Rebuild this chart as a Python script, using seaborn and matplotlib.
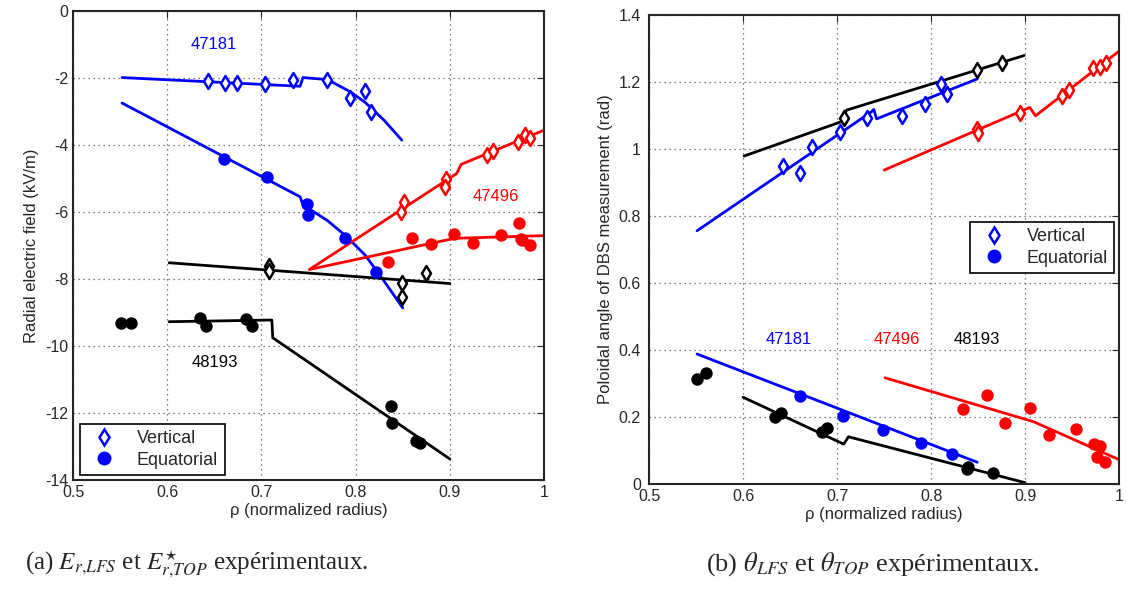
import seaborn as sns
import matplotlib.pyplot as plt
import pandas as pd
from matplotlib.lines import Line2D
from matplotlib.ticker import FormatStrFormatter, MultipleLocator

# ---- panel (a): radial electric field (kV/m) ----
er_47181_vert_rho = [0.643, 0.661, 0.674, 0.704, 0.733, 0.770, 0.794, 0.810, 0.816]
er_47181_vert_val = [-2.09, -2.14, -2.14, -2.18, -2.04, -2.04, -2.59, -2.39, -3.02]
er_47181_equa_rho = [0.660, 0.706, 0.748, 0.749, 0.789, 0.822]
er_47181_equa_val = [-4.40, -4.96, -5.76, -6.09, -6.76, -7.78]
er_47496_vert_rho = [0.851, 0.848, 0.896, 0.895, 0.939, 0.946, 0.972, 0.980, 0.985]
er_47496_vert_val = [-5.71, -6.00, -5.02, -5.24, -4.28, -4.17, -3.90, -3.70, -3.77]
er_47496_equa_rho = [0.834, 0.860, 0.880, 0.904, 0.924, 0.954, 0.973, 0.975, 0.977, 0.985]
er_47496_equa_val = [-7.48, -6.76, -6.94, -6.64, -6.92, -6.67, -6.32, -6.79, -6.82, -6.99]
er_48193_vert_rho = [0.708, 0.708, 0.849, 0.849, 0.875]
er_48193_vert_val = [-7.62, -7.75, -8.10, -8.53, -7.83]
er_48193_equa_rho = [0.551, 0.562, 0.635, 0.641, 0.684, 0.690, 0.838, 0.839, 0.864, 0.868]
er_48193_equa_val = [-9.30, -9.30, -9.15, -9.40, -9.20, -9.40, -11.78, -12.28, -12.84, -12.90]

# fitted profiles (a)
er_47181_vert_fit_rho = [0.552, 0.741, 0.744, 0.770, 0.794, 0.810, 0.830, 0.849]
er_47181_vert_fit_val = [-1.98, -2.24, -1.98, -2.04, -2.40, -2.72, -3.25, -3.85]
er_47181_equa_fit_rho = [0.552, 0.741, 0.744, 0.770, 0.790, 0.810, 0.830, 0.850]
er_47181_equa_fit_val = [-2.74, -5.54, -5.78, -6.25, -6.72, -7.28, -8.05, -8.86]
er_47496_vert_fit_rho = [0.751, 0.907, 0.912, 1.0]
er_47496_vert_fit_val = [-7.71, -4.85, -4.57, -3.55]
er_47496_equa_fit_rho = [0.751, 0.905, 1.0]
er_47496_equa_fit_val = [-7.71, -6.78, -6.70]
er_48193_vert_fit_rho = [0.602, 0.900]
er_48193_vert_fit_val = [-7.51, -8.13]
er_48193_equa_fit_rho = [0.602, 0.711, 0.712, 0.900]
er_48193_equa_fit_val = [-9.27, -9.22, -9.75, -13.37]

# ---- panel (b): poloidal angle (rad) ----
th_47181_vert_rho = [0.642, 0.661, 0.673, 0.703, 0.732, 0.769, 0.794, 0.810, 0.817]
th_47181_vert_val = [0.949, 0.929, 1.006, 1.051, 1.092, 1.099, 1.133, 1.194, 1.163]
th_47181_equa_rho = [0.661, 0.706, 0.749, 0.789, 0.822]
th_47181_equa_val = [0.263, 0.204, 0.161, 0.121, 0.090]
th_47496_vert_rho = [0.849, 0.850, 0.895, 0.939, 0.947, 0.972, 0.980, 0.986]
th_47496_vert_val = [1.060, 1.048, 1.107, 1.158, 1.176, 1.243, 1.246, 1.256]
th_47496_equa_rho = [0.834, 0.859, 0.879, 0.905, 0.925, 0.954, 0.973, 0.980, 0.976, 0.985]
th_47496_equa_val = [0.224, 0.267, 0.181, 0.228, 0.146, 0.163, 0.118, 0.113, 0.081, 0.067]
th_48193_vert_rho = [0.707, 0.849, 0.875]
th_48193_vert_val = [1.092, 1.236, 1.258]
th_48193_equa_rho = [0.551, 0.561, 0.634, 0.640, 0.684, 0.689, 0.838, 0.839, 0.866]
th_48193_equa_val = [0.312, 0.330, 0.199, 0.211, 0.154, 0.166, 0.044, 0.052, 0.032]

# fitted profiles (b)
th_47181_vert_fit_rho = [0.551, 0.736, 0.739, 0.742, 0.849]
th_47181_vert_fit_val = [0.756, 1.110, 1.118, 1.090, 1.209]
th_47181_equa_fit_rho = [0.551, 0.849]
th_47181_equa_fit_val = [0.388, 0.065]
th_47496_vert_fit_rho = [0.750, 0.905, 0.911, 0.999]
th_47496_vert_fit_val = [0.937, 1.124, 1.099, 1.290]
th_47496_equa_fit_rho = [0.751, 0.909, 0.999]
th_47496_equa_fit_val = [0.317, 0.186, 0.074]
th_48193_vert_fit_rho = [0.601, 0.705, 0.710, 0.899]
th_48193_vert_fit_val = [0.979, 1.082, 1.116, 1.279]
th_48193_equa_fit_rho = [0.600, 0.707, 0.712, 0.900]
th_48193_equa_fit_val = [0.259, 0.119, 0.141, 0.004]

shot_colors = {'47181': '#0000ff', '47496': '#ff0000', '48193': '#000000'}


def draw_panel(ax, series, labels_pos):
    for shot, s in series.items():
        col = shot_colors[shot]
        for kind in ('vert', 'equa'):
            fit = pd.DataFrame({'rho': s[kind + '_fit'][0], 'val': s[kind + '_fit'][1]})
            sns.lineplot(data=fit, x='rho', y='val', ax=ax, color=col, lw=2,
                         sort=False, estimator=None)
        pts = pd.DataFrame({'rho': s['vert'][0], 'val': s['vert'][1]})
        sns.scatterplot(data=pts, x='rho', y='val', ax=ax, marker='d', s=58,
                        facecolor='white', edgecolor=col, linewidth=1.8, zorder=4)
        pts = pd.DataFrame({'rho': s['equa'][0], 'val': s['equa'][1]})
        sns.scatterplot(data=pts, x='rho', y='val', ax=ax, marker='o', s=80,
                        color=col, edgecolor=col, linewidth=0, zorder=4)
        ax.text(labels_pos[shot][0], labels_pos[shot][1], shot, color=col,
                fontsize=12, ha='center', va='center')
    ax.set_xlim(0.5, 1.0)
    ax.xaxis.set_major_locator(MultipleLocator(0.1))
    ax.xaxis.set_major_formatter(FormatStrFormatter('%g'))
    ax.yaxis.set_major_formatter(FormatStrFormatter('%g'))
    ax.grid(True, ls=(0, (1, 3)), color='#555555', lw=0.9)
    ax.tick_params(direction='in', top=True, right=True, length=5, labelsize=11.5)
    for sp in ax.spines.values():
        sp.set_linewidth(1.5)
    ax.set_xlabel('ρ (normalized radius)', fontsize=12, labelpad=2)


sns.set_style('white')
plt.rcParams['font.family'] = ['Liberation Sans', 'DejaVu Sans']
plt.rcParams['axes.unicode_minus'] = False
plt.rcParams['mathtext.fontset'] = 'stix'

fig = plt.figure(figsize=(11.27, 5.92), dpi=100)
ax1 = fig.add_axes([0.0648, 0.189, 0.418, 0.792])
ax2 = fig.add_axes([0.576, 0.1824, 0.417, 0.7923])

draw_panel(ax1, {
    '47181': {'vert': (er_47181_vert_rho, er_47181_vert_val), 'equa': (er_47181_equa_rho, er_47181_equa_val),
              'vert_fit': (er_47181_vert_fit_rho, er_47181_vert_fit_val),
              'equa_fit': (er_47181_equa_fit_rho, er_47181_equa_fit_val)},
    '47496': {'vert': (er_47496_vert_rho, er_47496_vert_val), 'equa': (er_47496_equa_rho, er_47496_equa_val),
              'vert_fit': (er_47496_vert_fit_rho, er_47496_vert_fit_val),
              'equa_fit': (er_47496_equa_fit_rho, er_47496_equa_fit_val)},
    '48193': {'vert': (er_48193_vert_rho, er_48193_vert_val), 'equa': (er_48193_equa_rho, er_48193_equa_val),
              'vert_fit': (er_48193_vert_fit_rho, er_48193_vert_fit_val),
              'equa_fit': (er_48193_equa_fit_rho, er_48193_equa_fit_val)},
}, {'47181': (0.649, -1.0), '47496': (0.949, -5.54), '48193': (0.650, -10.5)})
ax1.set_ylim(-14, 0)
ax1.yaxis.set_major_locator(MultipleLocator(2))
ax1.set_ylabel('Radial electric field (kV/m)', fontsize=12)

draw_panel(ax2, {
    '47181': {'vert': (th_47181_vert_rho, th_47181_vert_val), 'equa': (th_47181_equa_rho, th_47181_equa_val),
              'vert_fit': (th_47181_vert_fit_rho, th_47181_vert_fit_val),
              'equa_fit': (th_47181_equa_fit_rho, th_47181_equa_fit_val)},
    '47496': {'vert': (th_47496_vert_rho, th_47496_vert_val), 'equa': (th_47496_equa_rho, th_47496_equa_val),
              'vert_fit': (th_47496_vert_fit_rho, th_47496_vert_fit_val),
              'equa_fit': (th_47496_equa_fit_rho, th_47496_equa_fit_val)},
    '48193': {'vert': (th_48193_vert_rho, th_48193_vert_val), 'equa': (th_48193_equa_rho, th_48193_equa_val),
              'vert_fit': (th_48193_vert_fit_rho, th_48193_vert_fit_val),
              'equa_fit': (th_48193_equa_fit_rho, th_48193_equa_fit_val)},
}, {'47181': (0.648, 0.43), '47496': (0.764, 0.43), '48193': (0.849, 0.43)})
ax2.set_ylim(0, 1.4)
ax2.yaxis.set_major_locator(MultipleLocator(0.2))
ax2.set_ylabel('Poloidal angle of DBS measurement (rad)', fontsize=12)
ax2.tick_params(axis='y', pad=6)

handles = [Line2D([], [], ls='none', marker='d', ms=8, mfc='white', mec='#0000ff', mew=1.8),
           Line2D([], [], ls='none', marker='o', ms=9, color='#0000ff')]
for ax, loc, anchor in ((ax1, 'lower left', (0.015, 0.011)), (ax2, 'upper right', (0.99, 0.559))):
    leg = ax.legend(handles, ['Vertical', 'Equatorial'], loc=loc, bbox_to_anchor=anchor,
                    fontsize=13, fancybox=False, edgecolor='black', framealpha=1,
                    handletextpad=0.8, borderpad=0.35, labelspacing=0.25, handlelength=2.0,
                    borderaxespad=0)
    leg.get_frame().set_linewidth(1.2)

fig.text(0.022, 0.047, r'(a) $E_{r{,}LFS}$ et $E^{\star}_{r{,}TOP}$ expérimentaux.',
         fontsize=18, family='Liberation Serif', ha='left', va='center')
fig.text(0.774, 0.047, r'(b) $\theta_{LFS}$ et $\theta_{TOP}$ expérimentaux.',
         fontsize=19, family='Liberation Serif', ha='center', va='center')

fig.savefig('out.png', dpi=100)
